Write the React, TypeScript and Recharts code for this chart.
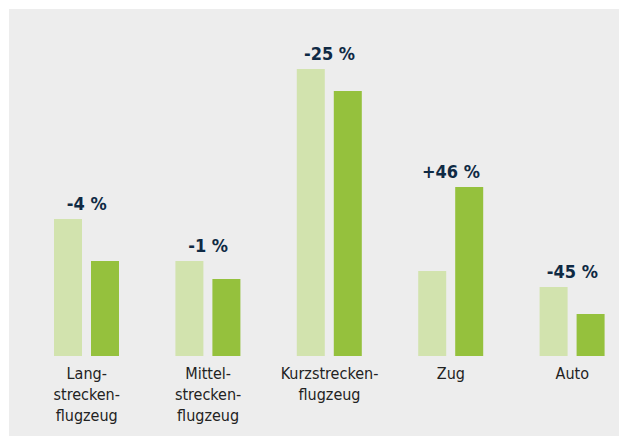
import React from 'react';
import { ComposedChart, Bar, Line, XAxis, YAxis, LabelList } from 'recharts';

const categories = ['Lang-\nstrecken-\nflugzeug', 'Mittel-\nstrecken-\nflugzeug', 'Kurzstrecken-\nflugzeug', 'Zug', 'Auto'];
const valuesBefore = [137, 95, 287, 85, 69];
const valuesAfter = [95, 77, 265, 169, 42];
const changes = ['-4 %', '-1 %', '-25 %', '+46 %', '-45 %'];

const data = categories.map((name, i) => ({
  name,
  before: valuesBefore[i],
  after: valuesAfter[i],
  top: Math.max(valuesBefore[i], valuesAfter[i]),
  change: changes[i],
}));

const FONT = "'DejaVu Sans Condensed', 'Liberation Sans Narrow', 'Roboto Condensed', Roboto, sans-serif";

const CategoryTick = ({ x, y, payload }: any) => {
  const lines = String(payload.value).split('\n');
  return (
    <text x={x} y={y} textAnchor="middle" fill="#222" fontSize={16} fontFamily={FONT} style={{ fontStretch: 'condensed' }}>
      {lines.map((line, i) => (
        <tspan key={i} x={x} dy={i === 0 ? 15 : 21}>
          {line}
        </tspan>
      ))}
    </text>
  );
};

const ChangeLabel = ({ x, y, value }: any) => (
  <text
    x={x}
    y={y - 9}
    textAnchor="middle"
    fill="#0f2a44"
    fontSize={18}
    fontWeight="bold"
    fontFamily={FONT}
    style={{ fontStretch: 'condensed' }}
  >
    {value}
  </text>
);

export default function App() {
  return (
    <div style={{ marginLeft: 1, marginTop: 1, width: 617, height: 427, overflow: 'hidden', background: '#ededed' }}>
      <ComposedChart width={630} height={427} data={data} margin={{ top: 27, right: 6, bottom: 0, left: 17 }} barSize={28} barGap={9}>
        <XAxis dataKey="name" axisLine={false} tickLine={false} height={80} interval={0} tick={<CategoryTick />} />
        <YAxis hide domain={[0, 320]} />
        <Bar dataKey="before" fill="#d2e3ae" isAnimationActive={false} />
        <Bar dataKey="after" fill="#95c13d" isAnimationActive={false} />
        <Line dataKey="top" stroke="none" dot={false} activeDot={false} isAnimationActive={false}>
          <LabelList dataKey="change" content={<ChangeLabel />} />
        </Line>
      </ComposedChart>
    </div>
  );
}
